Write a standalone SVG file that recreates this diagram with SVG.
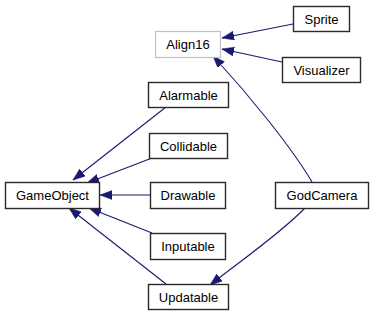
<svg xmlns="http://www.w3.org/2000/svg" width="372" height="316" viewBox="0 0 372 316">
  <style>
    .box rect { fill: #ffffff; stroke: #2a2a2a; stroke-width: 1.4; }
    .box.ext rect { stroke: #bfbfbf; stroke-width: 1.2; }
    .box text { font-family: "Liberation Sans", Arial, sans-serif; font-size: 13px; text-anchor: middle; fill: #000000; }
    .edge { fill: none; stroke: #191970; stroke-width: 1.1; marker-end: url(#arrow); }
  </style>
  <defs>
    <marker id="arrow" markerUnits="userSpaceOnUse" markerWidth="13" markerHeight="10" refX="12" refY="4.5" orient="auto">
      <path d="M0,0 L12,4.5 L0,9 z" fill="#191970" stroke="#191970" stroke-width="0.5"/>
    </marker>
  </defs>
  <rect width="372" height="316" fill="#ffffff"/>

  <!-- inheritance arrows: child -> base -->
  <g id="connectors">
    <path class="edge" d="M293,24 L222,38"/>
    <path class="edge" d="M282,62 L222,49"/>
    <path class="edge" d="M312,182 C292,148 250,96 213,56"/>
    <path class="edge" d="M166,107 L73,180"/>
    <path class="edge" d="M152,158 L87,183"/>
    <path class="edge" d="M150,195 L100,195"/>
    <path class="edge" d="M152,233 L89,208"/>
    <path class="edge" d="M166,284 L69,208"/>
    <path class="edge" d="M305,208 C282,232 242,260 210,285"/>
  </g>

  <g id="Sprite" class="box">
    <rect x="293.5" y="6.5" width="56" height="25"/>
    <text x="321.5" y="23.5">Sprite</text>
  </g>
  <g id="Align16" class="box ext">
    <rect x="155.5" y="31.5" width="65" height="26"/>
    <text x="188" y="49">Align16</text>
  </g>
  <g id="Visualizer" class="box">
    <rect x="282.5" y="57.5" width="78" height="25"/>
    <text x="321.5" y="74.5">Visualizer</text>
  </g>
  <g id="Alarmable" class="box">
    <rect x="148.5" y="82.5" width="80" height="25"/>
    <text x="188.5" y="99.5">Alarmable</text>
  </g>
  <g id="Collidable" class="box">
    <rect x="149.5" y="133.5" width="78" height="25"/>
    <text x="188.5" y="150.5">Collidable</text>
  </g>
  <g id="GameObject" class="box">
    <rect x="5.5" y="182.5" width="94" height="26"/>
    <text x="52.5" y="200">GameObject</text>
  </g>
  <g id="Drawable" class="box">
    <rect x="150.5" y="182.5" width="75" height="26"/>
    <text x="188" y="200">Drawable</text>
  </g>
  <g id="GodCamera" class="box">
    <rect x="275.5" y="182.5" width="93" height="26"/>
    <text x="322" y="200">GodCamera</text>
  </g>
  <g id="Inputable" class="box">
    <rect x="150.5" y="233.5" width="75" height="26"/>
    <text x="188" y="251">Inputable</text>
  </g>
  <g id="Updatable" class="box">
    <rect x="148.5" y="284.5" width="80" height="25"/>
    <text x="188.5" y="301.5">Updatable</text>
  </g>
</svg>
